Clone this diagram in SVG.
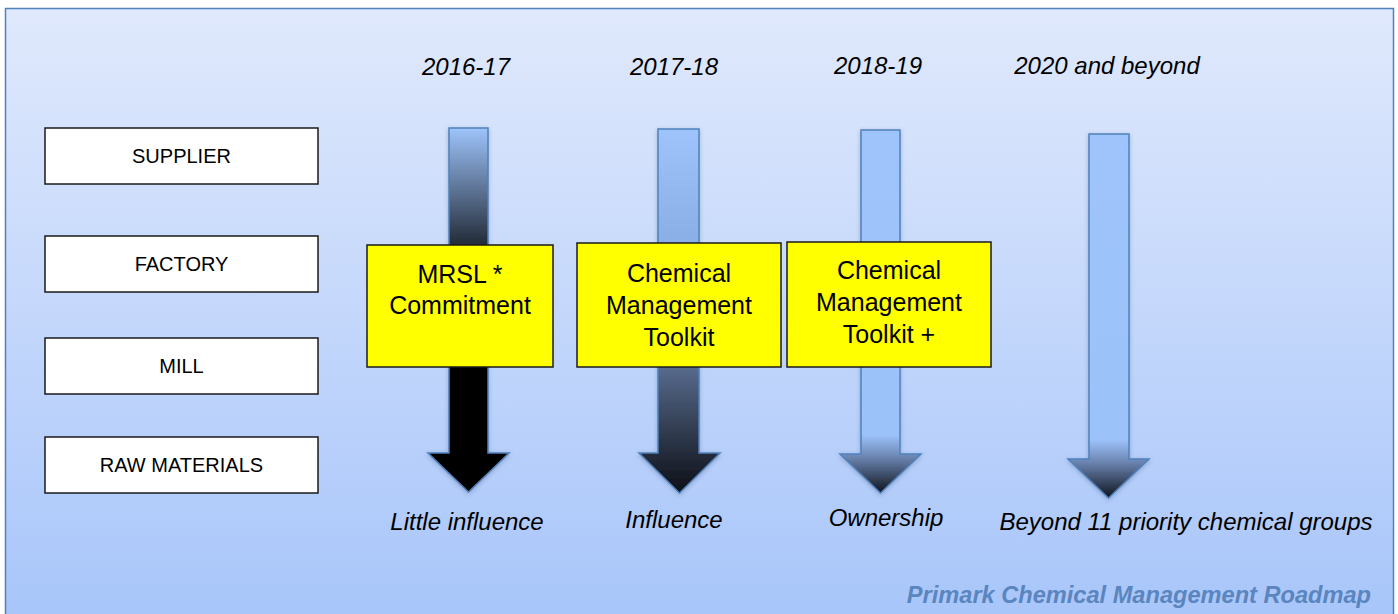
<svg xmlns="http://www.w3.org/2000/svg" width="1398" height="614" viewBox="0 0 1398 614">
  <defs>
    <linearGradient id="bg" x1="0" y1="0" x2="0" y2="1">
      <stop offset="0" stop-color="#e0e9fc"/>
      <stop offset="1" stop-color="#a7c5fa"/>
    </linearGradient>
    <linearGradient id="g1" x1="0" y1="0" x2="0" y2="1">
      <stop offset="0" stop-color="#9ec4fb"/>
      <stop offset="0.31" stop-color="#27303f"/>
      <stop offset="0.66" stop-color="#000000"/>
      <stop offset="1" stop-color="#000000"/>
    </linearGradient>
    <linearGradient id="g2" x1="0" y1="0" x2="0" y2="1">
      <stop offset="0" stop-color="#9ec4fb"/>
      <stop offset="0.31" stop-color="#8aaee6"/>
      <stop offset="0.66" stop-color="#56698a"/>
      <stop offset="1" stop-color="#0c0f16"/>
    </linearGradient>
    <linearGradient id="g3" x1="0" y1="0" x2="0" y2="1">
      <stop offset="0" stop-color="#9ec4fb"/>
      <stop offset="0.84" stop-color="#9cc2fa"/>
      <stop offset="0.9" stop-color="#6c86b2"/>
      <stop offset="1" stop-color="#0f141f"/>
    </linearGradient>
    <filter id="shadow" x="-30%" y="-10%" width="160%" height="120%">
      <feDropShadow dx="0" dy="1.5" stdDeviation="2" flood-color="#3a5070" flood-opacity="0.35"/>
    </filter>
    <style>
      .label { fill: #ffffff; stroke: #1a1a1a; stroke-width: 1.5; }
      .stage { fill: #ffff00; stroke: #1a1a1a; stroke-width: 1.5; }
      .arrow { stroke: #4f81bd; stroke-width: 1.5; filter: url(#shadow); }
      .t { font-family: "Liberation Sans", Arial, sans-serif; fill: #000000; text-anchor: middle; }
      .row { font-size: 20px; }
      .box { font-size: 25px; }
      .it { font-size: 24px; font-style: italic; }
      .title { font-family: "Liberation Sans", Arial, sans-serif; font-size: 23.6px; font-weight: bold; font-style: italic; fill: #5a85be; text-anchor: end; }
    </style>
  </defs>

  <!-- panel -->
  <rect x="0" y="0" width="1398" height="614" fill="#ffffff"/>
  <rect x="5.5" y="8.5" width="1388" height="620" fill="url(#bg)" stroke="#4f81bd" stroke-width="1.5"/>

  <!-- supply chain tiers -->
  <g id="supplier">
    <rect class="label" x="45" y="128" width="273" height="56"/>
    <text class="t row" x="181.5" y="163">SUPPLIER</text>
  </g>
  <g id="factory">
    <rect class="label" x="45" y="236" width="273" height="56"/>
    <text class="t row" x="181.5" y="271">FACTORY</text>
  </g>
  <g id="mill">
    <rect class="label" x="45" y="338" width="273" height="56"/>
    <text class="t row" x="181.5" y="373">MILL</text>
  </g>
  <g id="raw-materials">
    <rect class="label" x="45" y="437" width="273" height="56"/>
    <text class="t row" x="181.5" y="472">RAW MATERIALS</text>
  </g>

  <!-- period headings -->
  <g id="years">
    <text class="t it" x="466" y="75">2016-17</text>
    <text class="t it" x="674" y="75">2017-18</text>
    <text class="t it" x="878" y="74">2018-19</text>
    <text class="t it" x="1107" y="74">2020 and beyond</text>
  </g>

  <!-- downward reach arrows -->
  <g id="connectors">
    <path id="arrow-2016" class="arrow" fill="url(#g1)" d="M449,128 H488 V453 H509 L468.5,492 L428,453 H449 Z"/>
    <path id="arrow-2017" class="arrow" fill="url(#g2)" d="M658,129 H699 V453 H720 L679.5,493 L639,453 H658 Z"/>
    <path id="arrow-2018" class="arrow" fill="url(#g3)" d="M861,130 H900 V454 H921 L880.5,493 L840,454 H861 Z"/>
    <path id="arrow-2020" class="arrow" fill="url(#g3)" d="M1089,134 H1129 V459 H1149 L1108.5,498 L1068,459 H1089 Z"/>
  </g>

  <!-- programme stages -->
  <g id="mrsl-commitment">
    <rect class="stage" x="367" y="245" width="186" height="122"/>
    <text class="t box" x="460" y="283">MRSL *</text>
    <text class="t box" x="460" y="314">Commitment</text>
  </g>
  <g id="cm-toolkit">
    <rect class="stage" x="577" y="243" width="204" height="124"/>
    <text class="t box" x="679" y="282">Chemical</text>
    <text class="t box" x="679" y="314">Management</text>
    <text class="t box" x="679" y="346">Toolkit</text>
  </g>
  <g id="cm-toolkit-plus">
    <rect class="stage" x="787" y="242" width="204" height="125"/>
    <text class="t box" x="889" y="279">Chemical</text>
    <text class="t box" x="889" y="311">Management</text>
    <text class="t box" x="889" y="343">Toolkit +</text>
  </g>

  <!-- outcomes -->
  <g id="outcomes">
    <text class="t it" x="467" y="530">Little influence</text>
    <text class="t it" x="674" y="528">Influence</text>
    <text class="t it" x="886" y="526">Ownership</text>
    <text class="t it" x="1186" y="530">Beyond 11 priority chemical groups</text>
  </g>

  <text class="title" x="1371" y="603">Primark Chemical Management Roadmap</text>
</svg>
